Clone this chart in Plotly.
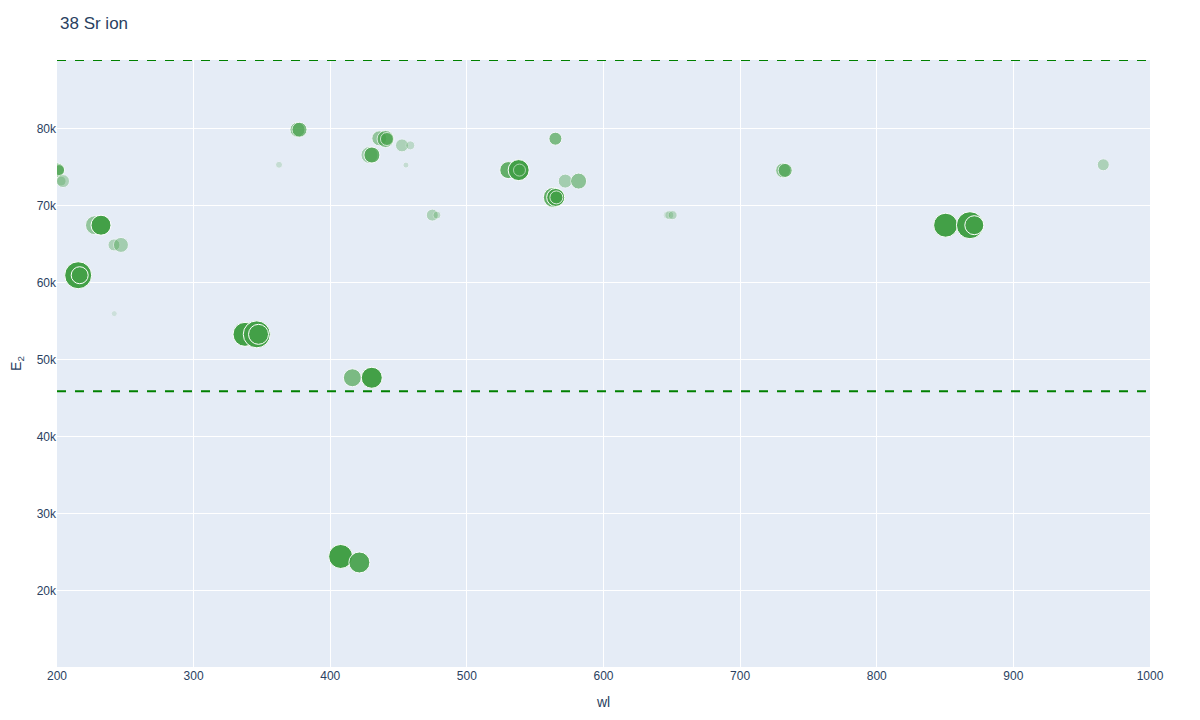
import plotly.graph_objects as go

# Sr II lines: wavelength (nm), upper level energy (cm-1), marker size, opacity
wl = [200.5, 201.5, 203.0, 204.4, 215.5, 216.6, 227.8, 232.2, 241.7, 246.8,
      241.9, 337.6, 346.2, 347.5, 362.5, 376.0, 377.5, 407.6, 421.3, 416.2,
      430.4, 428.7, 430.5, 435.9, 440.5, 441.5, 452.5, 458.6, 455.4, 474.7,
      478.1, 530.3, 537.9, 538.5, 564.8, 572.0, 581.8, 563.3, 565.0, 565.5,
      646.5, 648.2, 650.6, 731.5, 733.0, 850.4, 868.2, 871.4, 965.8]
E2 = [74660, 74660, 73230, 73230, 61000, 61000, 67500, 67500, 64940, 64940,
      56010, 53320, 53320, 53320, 75350, 79910, 79910, 24460, 23680, 47680,
      47680, 76620, 76620, 78790, 78700, 78700, 77870, 77870, 75310, 68810,
      68810, 74660, 74660, 74660, 78740, 73230, 73230, 71110, 71110, 71110,
      68810, 68810, 68810, 74620, 74620, 67500, 67500, 67500, 75350]
strength = [14, 11, 10, 13, 27, 17, 19, 20, 12, 15,
            6, 24, 27, 20, 7, 15, 15, 24, 21, 18,
            21, 17, 16, 15, 17, 13, 13, 9, 6, 12,
            8, 17, 21, 12, 13, 14, 16, 20, 18, 13,
            8, 9, 9, 15, 14, 24, 27, 19, 12]
alpha = [0.65, 0.55, 0.3, 0.35, 1.0, 1.0, 0.5, 1.0, 0.35, 0.4,
         0.15, 1.0, 1.0, 1.0, 0.2, 0.55, 0.65, 1.0, 0.9, 0.65,
         1.0, 0.4, 0.8, 0.5, 0.65, 0.65, 0.35, 0.25, 0.2, 0.35,
         0.25, 0.8, 1.0, 0.55, 0.65, 0.4, 0.55, 0.8, 1.0, 0.8,
         0.15, 0.25, 0.3, 0.55, 0.65, 1.0, 1.0, 1.0, 0.35]

# ionization limits (cm-1)
ion_limits = [45932, 88964]

fig = go.Figure()
fig.add_trace(go.Scatter(x=wl, y=E2, mode='markers',
                         marker=dict(color='#43A047', size=strength, opacity=alpha),
                         showlegend=False))
for lim in ion_limits:
    fig.add_hline(y=lim, line=dict(color='green', dash='dash', width=2))

# page body has an 8px margin, so the figure is sized to fit inside it
fig.update_layout(title=dict(text='38 Sr ion', x=52 / 1184, y=1 - 15 / 704,
                             xanchor='left', yanchor='middle'),
                  width=1184, height=704,
                  font=dict(family='Arial'),
                  margin=dict(l=49, r=42, t=52, b=45),
                  xaxis_title='wl',
                  yaxis_title='E<sub>2</sub>')
fig.update_xaxes(range=[200, 1000], automargin=False)
fig.update_yaxes(range=[10100, 88964], automargin=False)

fig.write_html("out.html")
